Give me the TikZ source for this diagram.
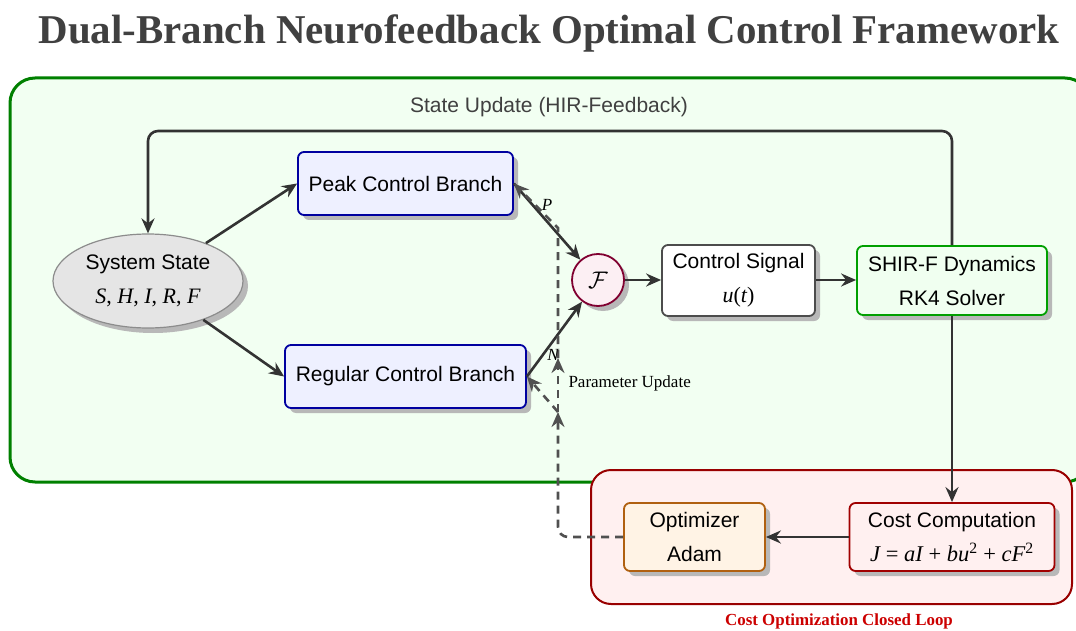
\documentclass[tikz,border=0pt]{standalone}
\usepackage{fix-cm}
\usepackage{fontspec}
\setmainfont{Liberation Sans}
\newfontfamily\serif{Liberation Serif}
\usetikzlibrary{shapes.geometric,shadows,arrows.meta}
\definecolor{titlegray}{HTML}{404040}
\definecolor{arrowgray}{HTML}{333333}
\definecolor{dashgray}{HTML}{505050}
\definecolor{framegreen}{HTML}{008000}
\definecolor{framefill}{HTML}{F2FFF2}
\definecolor{bluefill}{HTML}{EEF0FF}
\definecolor{blueline}{HTML}{0000A0}
\definecolor{ffill}{HTML}{FCEFF3}
\definecolor{fline}{HTML}{800030}
\definecolor{shirfill}{HTML}{F0FFF0}
\definecolor{shirline}{HTML}{00A000}
\definecolor{pinkfill}{HTML}{FFF0F0}
\definecolor{pinkline}{HTML}{990000}
\definecolor{costline}{HTML}{A00000}
\definecolor{optfill}{HTML}{FFF3E5}
\definecolor{optline}{HTML}{B06010}
\definecolor{loopred}{HTML}{CC0000}
\newcommand{\mi}[1]{{\serif\itshape #1}}
\newcommand{\up}[1]{{\serif #1}}
\begin{document}
\begin{tikzpicture}[x=1pt,y=-1pt,
  nodefont/.style={font=\fontsize{21}{34}\selectfont},
  shad/.style={drop shadow={shadow xshift=5pt,shadow yshift=-5pt,fill=black!28,opacity=1}},
  boxnode/.style={draw, rounded corners=6pt, line width=1.8pt, align=center, inner sep=0pt, nodefont, shad},
  arr/.style={draw=arrowgray, line width=2.6pt, -{Stealth[length=15pt,width=13pt,inset=5pt]}},
  dasharr/.style={draw=dashgray, line width=2.6pt, dash pattern=on 8pt off 6pt, -{Stealth[length=15pt,width=13pt,inset=5pt]}}
]
\useasboundingbox (0,0) rectangle (1076,631);
\fill[white] (0,0) rectangle (1076,631);

% title
\node[font=\serif\bfseries\fontsize{40.9}{48}\selectfont, text=titlegray] (title) at (549,33) {Dual-Branch Neurofeedback Optimal Control Framework};

% green frame
\draw[framegreen, fill=framefill, line width=3pt, rounded corners=25pt] (10,78) rectangle (1090,482);
\node[font=\fontsize{21}{26}\selectfont, text=titlegray] (sulabel) at (549,107) {State Update (HIR-Feedback)};

% pink frame
\draw[pinkline, fill=pinkfill, line width=2pt, rounded corners=20pt] (591,470) rectangle (1072,604);
\node[font=\serif\bfseries\fontsize{16.9}{20}\selectfont, text=loopred] (looplabel) at (839,621) {Cost Optimization Closed Loop};

% nodes
\node[ellipse, draw=black!45, fill=black!10, line width=1.2pt, minimum width=190pt, minimum height=94pt, inner sep=0pt, align=center, nodefont, shad] (state) at (148,281) {System State\\\fontsize{22}{34}\selectfont\mi{S}\up{, }\mi{H}\up{, }\mi{I}\up{, }\mi{R}\up{, }\mi{F}};
\node[boxnode, draw=blueline, fill=bluefill, minimum width=215pt, minimum height=63pt] (peak) at (405.5,183.5) {Peak Control Branch};
\node[boxnode, draw=blueline, fill=bluefill, minimum width=241pt, minimum height=63pt] (regular) at (405.5,376.5) {Regular Control Branch};
\node[circle, draw=fline, fill=ffill, line width=1.8pt, minimum size=52pt, inner sep=0pt, font=\fontsize{24}{28}\selectfont, shad] (F) at (598,280) {$\mathcal{F}$};
\node[boxnode, draw=black!70, fill=white, minimum width=153pt, minimum height=71pt] (ctrl) at (738.5,280.5) {Control Signal\\\fontsize{22}{34}\selectfont\mi{u}\up{(}\mi{t}\up{)}};
\node[boxnode, draw=shirline, fill=shirfill, minimum width=190pt, minimum height=69pt] (shir) at (952,280.5) {SHIR-F Dynamics\\RK4 Solver};
\node[boxnode, draw=costline, fill=pinkfill, minimum width=205pt, minimum height=68pt] (cost) at (952,537) {Cost Computation\\\fontsize{22.5}{32}\selectfont\mi{J}\up{\ = }\mi{aI}\up{\ + }\mi{bu}\up{\textsuperscript{2}\ + }\mi{cF}\up{\textsuperscript{2}}};
\node[boxnode, draw=optline, fill=optfill, minimum width=141pt, minimum height=68pt] (opt) at (694.5,537) {Optimizer\\Adam};

% coordinates
\coordinate (top) at (0,131);
\coordinate (dcorner) at (558,537);
\coordinate (dsplit) at (558,412);
\coordinate (dmid) at (558,358);
\coordinate (dupper) at (558,228);

% connectors
\draw[arr, rounded corners=10pt] (shir.north) -- (shir.north |- top) -- (state.north |- top) -- (state.north);
\draw[arr] (state) -- (peak.west);
\draw[arr] (state) -- (regular.west);
\draw[arr] (peak.east) -- (F);
\draw[arr] (regular.east) -- (F);
\draw[arr] (F) -- (ctrl.west |- F);
\draw[arr] (ctrl.east |- F) -- (shir.west |- F);
\draw[arr] (shir.south) -- (cost.north);
\draw[arr] (cost.west) -- (opt.east);

% dashed parameter update
\draw[dasharr, rounded corners=10pt] (opt.west) -- (dcorner) -- (dsplit);
\draw[dasharr] (dsplit) -- (regular.east);
\draw[dasharr] (dsplit) -- (dmid);
\draw[dasharr] (dmid) -- (dupper) -- (peak.east);

% labels
\node[font=\serif\itshape\fontsize{17}{20}\selectfont] (plabel) at (547,205) {P};
\node[font=\serif\itshape\fontsize{17}{20}\selectfont] (nlabel) at (553,355) {N};
\node[font=\serif\fontsize{17}{20}\selectfont, anchor=west] (pulabel) at (565,383) {Parameter Update};
\end{tikzpicture}
\end{document}
